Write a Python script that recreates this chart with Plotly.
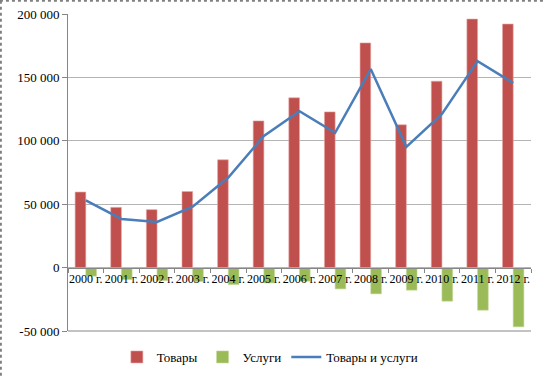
import plotly.graph_objects as go

years = ["2000 г.", "2001 г.", "2002 г.", "2003 г.", "2004 г.", "2005 г.", "2006 г.",
         "2007 г.", "2008 г.", "2009 г.", "2010 г.", "2011 г.", "2012 г."]
goods = [59600, 47500, 45700, 60000, 85000, 115700, 133900, 122800, 177200, 112600, 147000, 196000, 192100]
services = [-6800, -9400, -10200, -11000, -13400, -12100, -10700, -16800, -20700, -17800, -26500, -33600, -46700]
total = [53000, 38400, 36000, 48000, 71000, 103800, 123300, 106300, 156600, 95200, 121200, 162800, 145600]

y_ticks = [-50000, 0, 50000, 100000, 150000, 200000]
y_ticktext = ["-50 000", "0", "50 000", "100 000", "150 000", "200 000"]

FONT = "Liberation Serif"

fig = go.Figure()
fig.add_trace(go.Bar(x=years, y=goods, name="Товары",
                     marker=dict(color="#c0504d", line=dict(color="#e8a6a4", width=0.6))))
fig.add_trace(go.Bar(x=years, y=services, name="Услуги",
                     marker=dict(color="#9bbb59", line=dict(color="#c4d89a", width=0.6))))
fig.add_trace(go.Scatter(x=years, y=total, name="Товары и услуги", mode="lines",
                         line=dict(color="#4a7ebb", width=2.5)))

fig.update_layout(
    width=544, height=376,
    margin=dict(l=68, r=13, t=14, b=45, autoexpand=False),
    paper_bgcolor="white", plot_bgcolor="white",
    font=dict(family=FONT, size=13, color="black"),
    barmode="group", bargap=0.40, bargroupgap=0,
    showlegend=True,
    legend=dict(orientation="h", x=0.436, xanchor="center", y=-0.082, yanchor="middle",
                font=dict(family=FONT, size=13, color="black"), traceorder="normal"),
    xaxis=dict(type="category", anchor="free", position=0.2, automargin=False,
               showline=True, linecolor="#868686", linewidth=1,
               ticks="outside", ticklen=4, tickcolor="#868686", tickson="boundaries",
               tickangle=0, tickfont=dict(family=FONT, size=12, color="black"), showgrid=False),
    yaxis=dict(range=[-50000, 200000], tickvals=y_ticks, ticktext=y_ticktext, automargin=False,
               showline=True, linecolor="#868686", linewidth=1,
               ticks="outside", ticklen=5, tickcolor="#868686",
               showgrid=True, gridcolor="#b4b4b4", gridwidth=1, zeroline=False,
               tickfont=dict(family=FONT, size=13, color="black")),
    shapes=[
        dict(type="line", xref="paper", yref="paper", x0=-0.147, x1=1.03, y0=1.042, y1=1.042,
             line=dict(color="#808080", width=2, dash="dot")),
        dict(type="line", xref="paper", yref="paper", x0=-0.145, x1=-0.145, y0=1.042, y1=-0.15,
             line=dict(color="#808080", width=2, dash="dot")),
        dict(type="line", xref="paper", yref="paper", x0=0, x1=1, y0=0, y1=0,
             line=dict(color="#868686", width=1)),
    ],
)

fig.write_html("out.html", config={"displayModeBar": False},
               post_script="document.body.style.margin='0';")
